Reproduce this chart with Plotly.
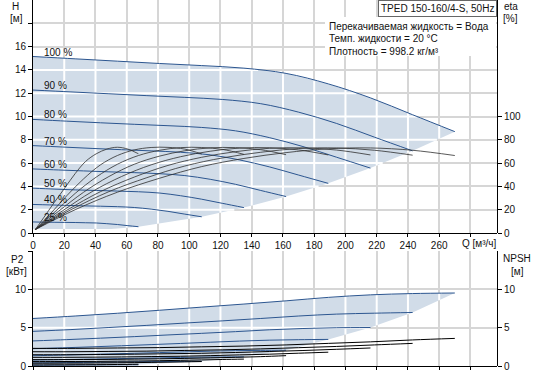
import numpy as np
import plotly.graph_objects as go

# ---------------- data ----------------
speed_labels = ["100 %", "90 %", "80 %", "70 %", "60 %", "50 %", "40 %", "25 %"]

q_100 = [0, 27, 54, 81, 108, 135, 162, 189, 216, 243, 270]
q_90 = [0, 24.3, 48.6, 72.9, 97.2, 121.5, 145.8, 170.1, 194.4, 218.7, 243]
q_80 = [0, 21.6, 43.2, 64.8, 86.4, 108, 129.6, 151.2, 172.8, 194.4, 216]
q_70 = [0, 18.9, 37.8, 56.7, 75.6, 94.5, 113.4, 132.3, 151.2, 170.1, 189]
q_60 = [0, 16.2, 32.4, 48.6, 64.8, 81, 97.2, 113.4, 129.6, 145.8, 162]
q_50 = [0, 13.5, 27, 40.5, 54, 67.5, 81, 94.5, 108, 121.5, 135]
q_40 = [0, 10.8, 21.6, 32.4, 43.2, 54, 64.8, 75.6, 86.4, 97.2, 108]
q_25 = [0, 6.75, 13.5, 20.25, 27, 33.75, 40.5, 47.25, 54, 60.75, 67.5]

h_100 = [15.15, 14.95, 14.75, 14.55, 14.37, 14.15, 13.7, 12.8, 11.6, 10.15, 8.7]
h_90 = [12.27, 12.11, 11.95, 11.79, 11.64, 11.46, 11.10, 10.37, 9.40, 8.22, 7.05]
h_80 = [9.75, 9.6, 9.46, 9.33, 9.21, 9.06, 8.77, 8.19, 7.42, 6.50, 5.57]
h_70 = [7.5, 7.38, 7.26, 7.15, 7.05, 6.93, 6.71, 6.27, 5.68, 4.97, 4.26]
h_60 = [5.5, 5.41, 5.33, 5.25, 5.18, 5.09, 4.93, 4.61, 4.18, 3.65, 3.13]
h_50 = [3.85, 3.77, 3.7, 3.65, 3.6, 3.54, 3.43, 3.20, 2.90, 2.54, 2.18]
h_40 = [2.45, 2.41, 2.37, 2.33, 2.30, 2.26, 2.19, 2.05, 1.86, 1.62, 1.39]
h_25 = [0.95, 0.93, 0.92, 0.91, 0.90, 0.88, 0.86, 0.80, 0.73, 0.63, 0.54]

# lower edge of the shaded operating range (below the 25 % curve)
h_min_q = [67.5, 50, 0]
h_min = [0.54, 0.35, 0.35]

eta_q_start = 1.5
eta_100 = [3, 20, 35, 47, 57, 64, 69, 72.3, 73, 71, 66.5]
eta_90 = [3, 20, 35.5, 47.5, 57.5, 64.5, 69.3, 72.5, 73, 71, 66.8]
eta_80 = [3, 19.5, 35.5, 48, 58, 65, 69.8, 72.7, 73.1, 71.2, 67]
eta_70 = [3, 19, 35.5, 48.5, 58.5, 65.5, 70.2, 72.9, 73.2, 71.3, 67]
eta_60 = [3, 18.5, 35, 48.5, 59, 66, 70.6, 73.1, 73.3, 71.5, 67.2]
eta_50 = [3, 17.5, 34, 48, 59, 66.5, 71, 73.3, 73.4, 71.7, 67.5]
eta_40 = [3, 16, 32, 46.5, 58.5, 66.5, 71.3, 73.4, 73.5, 72, 67.8]
eta_25 = [3, 13, 26, 38.5, 51, 61.5, 68, 72, 73.6, 72, 68]

p2_100 = [6.2, 6.52, 6.88, 7.27, 7.68, 8.08, 8.5, 8.95, 9.28, 9.45, 9.52]
p2_90 = [4.52, 4.75, 5.02, 5.30, 5.60, 5.89, 6.20, 6.52, 6.77, 6.89, 6.98]
p2_80 = [3.27, 3.44, 3.63, 3.83, 4.05, 4.26, 4.48, 4.72, 4.89, 4.99, 5.02]
p2_70 = [2.26, 2.37, 2.50, 2.64, 2.79, 2.94, 3.10, 3.25, 3.37, 3.43, 3.47]
p2_60 = [1.34, 1.41, 1.49, 1.57, 1.66, 1.75, 1.84, 1.93, 2.00, 2.04, 2.06]
p2_50 = [0.78, 0.82, 0.86, 0.91, 0.96, 1.01, 1.06, 1.12, 1.16, 1.18, 1.19]
p2_40 = [0.40, 0.42, 0.44, 0.47, 0.49, 0.52, 0.54, 0.57, 0.59, 0.60, 0.61]
p2_25 = [0.10, 0.10, 0.11, 0.11, 0.12, 0.13, 0.13, 0.14, 0.14, 0.15, 0.15]

npsh_100 = [2.3, 2.3, 2.35, 2.4, 2.5, 2.6, 2.75, 2.95, 3.15, 3.4, 3.6]
npsh_90 = [1.86, 1.86, 1.90, 1.94, 2.03, 2.11, 2.23, 2.39, 2.55, 2.75, 2.95]
npsh_80 = [1.47, 1.47, 1.50, 1.54, 1.60, 1.66, 1.76, 1.89, 2.02, 2.18, 2.35]
npsh_70 = [1.13, 1.13, 1.15, 1.18, 1.23, 1.27, 1.35, 1.45, 1.54, 1.67, 1.8]
npsh_60 = [0.83, 0.83, 0.85, 0.86, 0.90, 0.94, 0.99, 1.06, 1.13, 1.22, 1.35]
npsh_50 = [0.58, 0.58, 0.59, 0.60, 0.63, 0.65, 0.69, 0.74, 0.79, 0.85, 0.90]
npsh_40 = [0.37, 0.37, 0.38, 0.38, 0.40, 0.42, 0.44, 0.47, 0.50, 0.54, 0.58]
npsh_25 = [0.14, 0.14, 0.15, 0.15, 0.16, 0.16, 0.17, 0.18, 0.20, 0.21, 0.23]

x_ticks = [0, 20, 40, 60, 80, 100, 120, 140, 160, 180, 200, 220, 240, 260, 280]
x_ticktext = ["0", "20", "40", "60", "80", "100", "120", "140", "160", "180", "200", "220", "240", "260", ""]
h_ticks = [0, 2, 4, 6, 8, 10, 12, 14, 16, 18]
h_ticktext = ["0", "2", "4", "6", "8", "10", "12", "14", "16", ""]
eta_ticks = [0, 20, 40, 60, 80, 100]
p_ticks = [0, 5, 10, 15]
p_ticktext = ["0", "5", "10", ""]
npsh_ticks = [0, 5, 10]

title_text = "TPED 150-160/4-S, 50Hz"
info_lines = ["Перекачиваемая жидкость = Вода", "Темп. жидкости = 20 °C", "Плотность = 998.2 кг/м³"]

Q_list = [q_100, q_90, q_80, q_70, q_60, q_50, q_40, q_25]
H_list = [h_100, h_90, h_80, h_70, h_60, h_50, h_40, h_25]
ETA_list = [eta_100, eta_90, eta_80, eta_70, eta_60, eta_50, eta_40, eta_25]
P_list = [p2_100, p2_90, p2_80, p2_70, p2_60, p2_50, p2_40, p2_25]
N_list = [npsh_100, npsh_90, npsh_80, npsh_70, npsh_60, npsh_50, npsh_40, npsh_25]

# ---------------- styling ----------------
FONT = "Liberation Sans, Arial, sans-serif"
FILL = "rgb(209,220,232)"
CURVE = "#2c5690"
ETA_C = "#2e2e2e"
GRID = "#d6d6d6"
X_MAX = 297

# pixel helpers for layout placement (plot area 33..497 x 0..366)
def px_x(px):
    return (px - 33) / 464.0

def px_y(py):
    return (366 - py) / 366.0

TOP_DOM = [px_y(233), 1]
BOT_DOM = [0, px_y(251)]


def clip(poly_x, poly_y, c, vertical):
    xs = list(poly_x) + [poly_x[0]]
    ys = list(poly_y) + [poly_y[0]]
    a, b = (xs, ys) if vertical else (ys, xs)
    hits = []
    for i in range(len(a) - 1):
        a1, a2, b1, b2 = a[i], a[i + 1], b[i], b[i + 1]
        if (a1 <= c < a2) or (a2 <= c < a1):
            t = (c - a1) / (a2 - a1)
            hits.append(b1 + t * (b2 - b1))
    hits.sort()
    segs = []
    for k in range(0, len(hits) - 1, 2):
        segs.append((hits[k], hits[k + 1]))
    return segs


def white_grid(poly_x, poly_y, xgrid, ygrid):
    gx, gy = [], []
    for g in xgrid:
        for s0, s1 in clip(poly_x, poly_y, g, True):
            gx += [g, g, None]
            gy += [s0, s1, None]
    for g in ygrid:
        for s0, s1 in clip(poly_x, poly_y, g, False):
            gx += [s0, s1, None]
            gy += [g, g, None]
    return gx, gy


fig = go.Figure()

# ---- shaded operating ranges ----
top_px = list(q_100) + [q[-1] for q in Q_list[1:]] + h_min_q
top_py = list(h_100) + [h[-1] for h in H_list[1:]] + h_min
fig.add_trace(go.Scatter(x=top_px, y=top_py, fill="toself", fillcolor=FILL, mode="lines",
                         line=dict(width=0), hoverinfo="skip", xaxis="x", yaxis="y"))
bot_px = list(q_100) + [q[-1] for q in Q_list[1:-1]] + list(q_25[::-1])
bot_py = list(p2_100) + [p[-1] for p in P_list[1:-1]] + list(p2_25[::-1])
fig.add_trace(go.Scatter(x=bot_px, y=bot_py, fill="toself", fillcolor=FILL, mode="lines",
                         line=dict(width=0), hoverinfo="skip", xaxis="x2", yaxis="y2"))

# white grid lines inside the shaded ranges
gx, gy = white_grid(top_px, top_py, x_ticks[1:], h_ticks[1:])
fig.add_trace(go.Scatter(x=gx, y=gy, mode="lines", line=dict(color="white", width=2),
                         hoverinfo="skip", xaxis="x", yaxis="y"))
gx, gy = white_grid(bot_px, bot_py, x_ticks[1:], p_ticks[1:3])
fig.add_trace(go.Scatter(x=gx, y=gy, mode="lines", line=dict(color="white", width=2),
                         hoverinfo="skip", xaxis="x2", yaxis="y2"))

# ---- Q-H curves ----
for q, h in zip(Q_list, H_list):
    fig.add_trace(go.Scatter(x=q, y=h, mode="lines", line=dict(color=CURVE, width=1, shape="spline"),
                             xaxis="x", yaxis="y"))
# ---- efficiency curves ----
for q, e in zip(Q_list, ETA_list):
    fig.add_trace(go.Scatter(x=[eta_q_start] + q[1:], y=e, mode="lines",
                             line=dict(color=ETA_C, width=0.8, shape="spline"),
                             xaxis="x", yaxis="y3"))
# ---- P2 curves ----
for q, p in zip(Q_list, P_list):
    fig.add_trace(go.Scatter(x=q, y=p, mode="lines", line=dict(color=CURVE, width=1, shape="spline"),
                             xaxis="x2", yaxis="y2"))
# ---- NPSH curves ----
for q, n in zip(Q_list, N_list):
    fig.add_trace(go.Scatter(x=q, y=n, mode="lines", line=dict(color="black", width=1, shape="spline"),
                             xaxis="x2", yaxis="y4"))

ann = []
# speed labels
for lab, q, h in zip(speed_labels, Q_list, H_list):
    ann.append(dict(x=6, y=h[0], xref="x", yref="y", text=lab, showarrow=False,
                    xanchor="left", yanchor="bottom", yshift=-3,
                    font=dict(size=10, color="#111")))


def pa(text, x, y, xanchor="center", size=10):
    return dict(x=px_x(x), y=px_y(y), xref="paper", yref="paper", text=text, showarrow=False,
                xanchor=xanchor, yanchor="middle", font=dict(size=size, color="#111"))


ann += [
    pa("H", 15.5, 6.5), pa("[м]", 16.5, 19),
    pa("eta", 510.5, 6.5), pa("[%]", 510.5, 19),
    pa("P2", 17, 259), pa("[кВт]", 16, 271),
    pa("NPSH", 516.5, 258.5), pa("[м]", 517.5, 271),
    pa("Q [м³/ч]", 460, 243.5, xanchor="left"),
]
for i, line in enumerate(info_lines):
    ann.append(pa(line, 327, 26.5 + 12.3 * i, xanchor="left"))
ann.append(dict(x=1, y=1, xref="paper", yref="paper", text=title_text, showarrow=False,
                xanchor="right", yanchor="top", bgcolor="white", bordercolor="#666",
                borderwidth=1, borderpad=2, font=dict(size=10, color="#111")))

shapes = [dict(type="rect", xref="paper", yref="paper", x0=px_x(325), x1=px_x(496),
               y0=px_y(56), y1=px_y(17), fillcolor="white", line=dict(width=0), layer="above")]

def ax(**kw):
    base = dict(showline=True, linecolor="black", linewidth=1, ticks="outside", ticklen=4,
                tickcolor="black", tickfont=dict(size=10, color="#111"), zeroline=False,
                automargin=False, tickmode="array")
    base.update(kw)
    return base

fig.update_layout(
    width=537, height=374,
    margin=dict(l=33, r=40, t=0, b=8, autoexpand=False),
    paper_bgcolor="white", plot_bgcolor="white",
    showlegend=False,
    font=dict(family=FONT, size=10, color="#111"),
    xaxis=ax(domain=[0, 1], anchor="y", range=[0, X_MAX], tickvals=x_ticks, ticktext=x_ticktext,
             showgrid=True, gridcolor=GRID, gridwidth=2, ticklen=3),
    yaxis=ax(domain=TOP_DOM, anchor="x", range=[0, 20], tickvals=h_ticks, ticktext=h_ticktext,
             showgrid=True, gridcolor=GRID, gridwidth=2),
    yaxis3=ax(overlaying="y", side="right", anchor="free", position=1, range=[0, 200],
              tickvals=eta_ticks, showgrid=False),
    xaxis2=ax(domain=[0, 1], anchor="y2", range=[0, X_MAX], tickvals=x_ticks, showticklabels=False,
              showgrid=True, gridcolor=GRID, gridwidth=2, ticklen=3),
    yaxis2=ax(domain=BOT_DOM, anchor="x2", range=[0, 15], tickvals=p_ticks, ticktext=p_ticktext,
              showgrid=True, gridcolor=GRID, gridwidth=2),
    yaxis4=ax(overlaying="y2", side="right", anchor="free", position=1, range=[0, 15],
              tickvals=npsh_ticks, showgrid=False),
    annotations=ann,
    shapes=shapes,
)

fig.write_html("out.html", config={"displayModeBar": False},
               post_script="document.body.style.margin='0';document.body.style.overflow='hidden';")
